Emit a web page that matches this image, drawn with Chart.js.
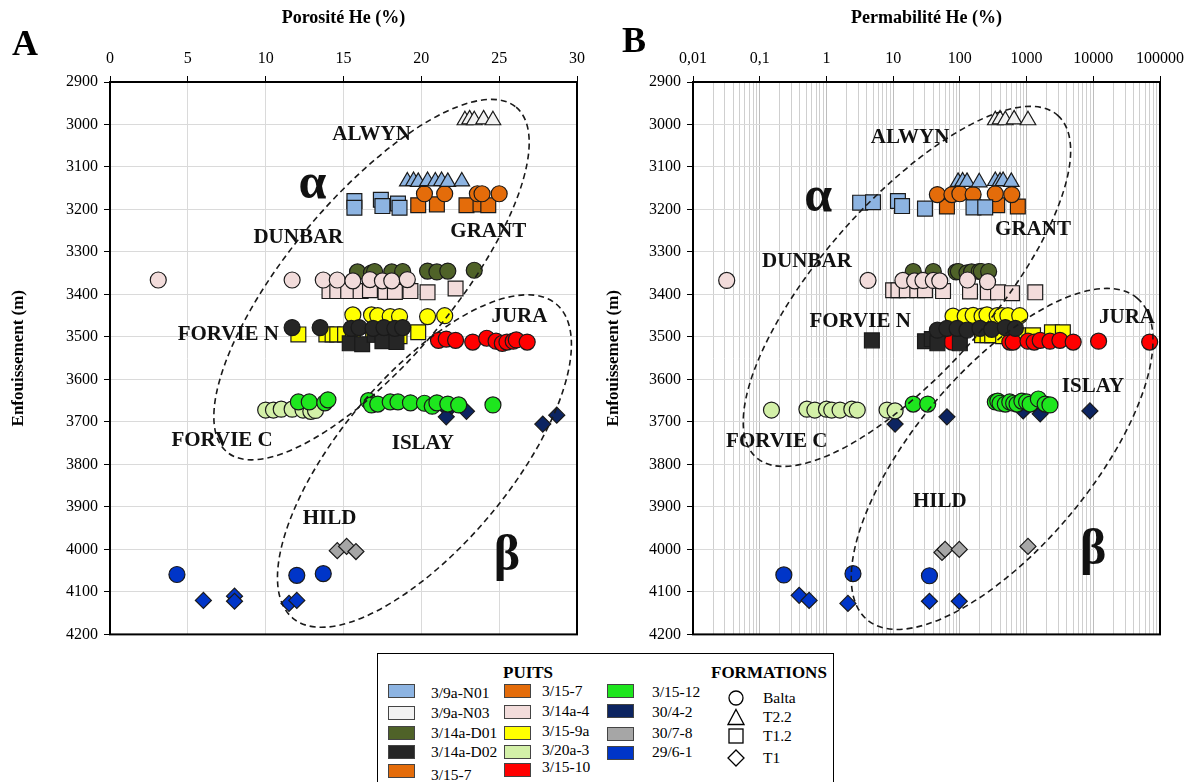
<!DOCTYPE html>
<html>
<head>
<meta charset="utf-8">
<script src="https://cdn.jsdelivr.net/npm/chart.js@4.4.1/dist/chart.umd.min.js"></script>
<style>
  body { margin: 0; background: #fff; width: 1201px; height: 782px; overflow: hidden; position: relative;
         font-family: 'Liberation Serif', 'Times New Roman', serif; color: #000; }
  canvas { position: absolute; top: 0; }
  #cA { left: 0; }
  #cB { left: 600px; }
  .panel { position: absolute; font-weight: bold; font-size: 36px; line-height: 1; }
  #legend { position: absolute; left: 377px; top: 653px; width: 457px; height: 140px; border: 1.5px solid #000; box-sizing: border-box; }
  .lg { position: absolute; font-size: 15.5px; line-height: 1; white-space: nowrap; }
  .lt { position: absolute; font-size: 17px; font-weight: bold; line-height: 1; }
  .sw { position: absolute; width: 27px; height: 14px; border: 1px solid #444; box-sizing: border-box; }
  .sym { position: absolute; }
</style>
</head>
<body>
<canvas id="cA" width="600" height="650" style="width:600px;height:650px"></canvas>
<canvas id="cB" width="601" height="650" style="width:601px;height:650px"></canvas>
<div class="panel" style="left:12px;top:25px">A</div>
<div class="panel" style="left:622px;top:22px">B</div>
<div id="legend"></div>

<script>
const FONT = "'Liberation Serif', 'Times New Roman', serif";

// puits et couleurs
const wellNames = ['3/9a-N01', '3/9a-N03', '3/14a-D01', '3/14a-D02', '3/15-7', '3/14a-4', '3/15-9a',
                   '3/20a-3', '3/15-10', '3/15-12', '30/4-2', '30/7-8', '29/6-1'];
const wellColors = ['#8db4e2', '#f2f2f2', '#4f6228', '#262626', '#e46c0a', '#f2dcdb', '#ffff00',
                    '#d3f0a8', '#ff0000', '#1ee61e', '#0c2461', '#a6a6a6', '#0035c8'];
// formations et symboles
const formNames = ['Balta', 'T2.2', 'T1.2', 'T1'];
const formShapes = ['circle', 'triangle', 'rect', 'rectRot'];

// ticks
const poroTicks = [0, 5, 10, 15, 20, 25, 30];
const permDecades = [0.01, 0.1, 1, 10, 100, 1000, 10000, 100000];
const depthTicks = [2900, 3000, 3100, 3200, 3300, 3400, 3500, 3600, 3700, 3800, 3900, 4000, 4100, 4200];

// ---- Porosité He (%) vs profondeur (m) ----
const poroN03T22 = [[22.8, 2990], [23.1, 2988], [23.4, 2990], [24.0, 2988], [24.6, 2990]];
const poroN01T22 = [[19.1, 3134], [19.5, 3133], [19.8, 3135], [20.4, 3133], [20.9, 3134], [21.3, 3133], [21.7, 3135], [22.6, 3134]];
const poroN01T12 = [[15.7, 3180], [15.7, 3196], [17.4, 3177], [17.5, 3192], [18.5, 3186], [18.6, 3196]];
const poro157Balta = [[20.2, 3163], [21.5, 3163], [23.6, 3163], [23.9, 3163], [25.0, 3163]];
const poro157T12 = [[19.8, 3190], [21.0, 3188], [22.9, 3190], [23.8, 3188], [24.3, 3190]];
const poro14a4Balta = [[3.1, 3366], [11.7, 3366], [13.7, 3366], [14.6, 3366], [15.6, 3368], [16.7, 3365], [17.5, 3368], [18.1, 3368], [19.1, 3365]];
const poroD01Balta = [[15.9, 3347], [16.8, 3349], [17.0, 3346], [18.1, 3347], [18.8, 3346], [20.4, 3345], [21.0, 3347], [21.7, 3345], [23.4, 3343]];
const poro14a4T12 = [[14.1, 3392], [14.6, 3392], [15.3, 3392], [16.1, 3392], [16.7, 3390], [17.7, 3394], [18.3, 3394], [19.3, 3392], [20.4, 3395], [22.2, 3386]];
const poroD02Balta = [[11.7, 3478], [13.5, 3478], [15.5, 3480], [16.0, 3478], [16.9, 3480], [17.6, 3478], [18.3, 3480], [18.8, 3478]];
const poroD02T12 = [[15.4, 3515], [16.2, 3517], [17.0, 3495], [17.5, 3510], [18.4, 3512]];
const poro159aBalta = [[15.6, 3448], [16.8, 3448], [17.2, 3450], [18.0, 3452], [18.6, 3452], [20.4, 3452], [21.5, 3450]];
const poro159aT12 = [[12.1, 3494], [13.9, 3494], [14.3, 3494], [14.6, 3494], [15.1, 3494], [15.6, 3494], [16.9, 3494], [18.6, 3498], [19.8, 3489]];
const poro1510Balta = [[21.1, 3508], [21.6, 3505], [22.2, 3508], [23.3, 3512], [24.2, 3503], [24.8, 3510], [25.2, 3515], [25.5, 3512], [25.9, 3510], [26.1, 3507], [26.8, 3512]];
const poro1512Balta = [[12.1, 3653], [12.8, 3653], [13.8, 3655], [14.0, 3648], [16.6, 3650], [16.8, 3660], [17.2, 3658], [18.0, 3653],
                       [18.5, 3653], [19.3, 3655], [20.2, 3656], [20.7, 3663], [21.0, 3655], [21.7, 3658], [22.4, 3660], [24.6, 3660]];
const poro20a3Balta = [[10.0, 3672], [10.5, 3672], [11.0, 3670], [11.7, 3670], [12.4, 3672], [12.9, 3675], [13.2, 3673]];
const poro304T1 = [[21.7, 3672], [21.6, 3688], [22.9, 3675], [27.8, 3705], [28.7, 3684]];
const poro307T1 = [[14.6, 4003], [15.2, 3993], [15.8, 4005]];
const poro296Balta = [[4.3, 4059], [12.0, 4061], [13.7, 4057]];
const poro296T1 = [[6.0, 4120], [8.0, 4110], [8.0, 4122], [11.5, 4127], [12.0, 4120]];

// ---- Perméabilité He vs profondeur (m) ----
const permN03T22 = [[340, 2990], [400, 2988], [480, 2990], [650, 2988], [1050, 2990]];
const permN01T22 = [[94, 3135], [110, 3134], [128, 3135], [195, 3136], [340, 3133], [400, 3134], [445, 3133], [590, 3135]];
const permN01T12 = [[3.2, 3184], [5.0, 3183], [11.8, 3180], [13.6, 3192], [30, 3198], [160, 3195], [240, 3195]];
const perm157Balta = [[46, 3165], [76, 3165], [100, 3163], [158, 3165], [340, 3163], [600, 3165]];
const perm157T12 = [[64, 3193], [363, 3190], [740, 3193]];
const perm14a4Balta = [[0.032, 3367], [4.2, 3367], [14, 3367], [21, 3368], [28, 3367], [40, 3367], [50, 3368], [130, 3366], [260, 3370]];
const permD01Balta = [[20, 3346], [40, 3346], [88, 3347], [95, 3346], [128, 3349], [150, 3347], [195, 3346], [210, 3346], [270, 3346]];
const perm14a4T12 = [[10, 3390], [12, 3390], [16, 3390], [23, 3390], [30, 3390], [56, 3392], [142, 3393], [263, 3395], [373, 3395], [605, 3397], [1350, 3395]];
const permD02Balta = [[46, 3484], [64, 3480], [91, 3480], [128, 3484], [200, 3480], [300, 3482], [480, 3478], [680, 3480]];
const permD02T12 = [[4.8, 3508], [30, 3510], [38, 3505], [46, 3515], [100, 3515]];
const perm159aBalta = [[79, 3451], [120, 3451], [158, 3449], [215, 3451], [255, 3448], [363, 3450], [427, 3450], [525, 3450], [790, 3450]];
const perm159aT12 = [[47, 3494], [215, 3496], [260, 3496], [305, 3496], [445, 3498], [740, 3496], [1250, 3496], [2400, 3489], [3500, 3489]];
const perm1510Balta = [[76, 3512], [560, 3512], [630, 3512], [1050, 3510], [1300, 3512], [1600, 3508], [2240, 3510], [3160, 3508], [5000, 3512], [12000, 3510], [70000, 3512]];
const perm1512Balta = [[20, 3658], [33, 3658], [340, 3653], [370, 3651], [400, 3656], [480, 3658], [560, 3653], [640, 3656],
                       [720, 3658], [850, 3651], [1000, 3653], [1130, 3658], [1500, 3646], [1900, 3658], [2240, 3660]];
const perm20a3Balta = [[0.15, 3672], [0.51, 3670], [0.67, 3672], [1.0, 3670], [1.2, 3672], [1.6, 3672], [2.4, 3670], [2.9, 3672], [8.1, 3672], [10.7, 3674]];
const perm304T1 = [[10.7, 3705], [64, 3688], [890, 3674], [1600, 3681], [8900, 3674]];
const perm307T1 = [[54, 4007], [60, 4000], [98, 4000], [1050, 3993]];
const perm296Balta = [[0.23, 4060], [2.5, 4057], [35, 4062]];
const perm296T1 = [[0.39, 4108], [0.55, 4120], [2.1, 4127], [35, 4122], [98, 4122]];

// series: puits + formation, drawn in this order
const series = [
  { well: '3/9a-N03', form: 'T2.2', poro: poroN03T22, perm: permN03T22 },
  { well: '3/9a-N01', form: 'T2.2', poro: poroN01T22, perm: permN01T22 },
  { well: '3/9a-N01', form: 'T1.2', poro: poroN01T12, perm: permN01T12 },
  { well: '3/15-7', form: 'Balta', poro: poro157Balta, perm: perm157Balta },
  { well: '3/15-7', form: 'T1.2', poro: poro157T12, perm: perm157T12 },
  { well: '3/14a-4', form: 'Balta', poro: poro14a4Balta, perm: perm14a4Balta },
  { well: '3/14a-D01', form: 'Balta', poro: poroD01Balta, perm: permD01Balta },
  { well: '3/14a-4', form: 'T1.2', poro: poro14a4T12, perm: perm14a4T12 },
  { well: '3/14a-D02', form: 'Balta', poro: poroD02Balta, perm: permD02Balta },
  { well: '3/14a-D02', form: 'T1.2', poro: poroD02T12, perm: permD02T12 },
  { well: '3/15-9a', form: 'Balta', poro: poro159aBalta, perm: perm159aBalta },
  { well: '3/15-10', form: 'Balta', poro: poro1510Balta, perm: perm1510Balta },
  { well: '3/15-9a', form: 'T1.2', poro: poro159aT12, perm: perm159aT12 },
  { well: '3/15-12', form: 'Balta', poro: poro1512Balta, perm: perm1512Balta },
  { well: '3/20a-3', form: 'Balta', poro: poro20a3Balta, perm: perm20a3Balta },
  { well: '30/4-2', form: 'T1', poro: poro304T1, perm: perm304T1 },
  { well: '30/7-8', form: 'T1', poro: poro307T1, perm: perm307T1 },
  { well: '29/6-1', form: 'Balta', poro: poro296Balta, perm: perm296Balta },
  { well: '29/6-1', form: 'T1', poro: poro296T1, perm: perm296T1 }
];

// annotations (champs + domaines alpha / beta)
const notesA = [
  { t: 'ALWYN', x: 16.8, y: 3024 }, { t: 'α', x: 13.0, y: 3142, big: true }, { t: 'GRANT', x: 24.3, y: 3252 },
  { t: 'DUNBAR', x: 12.1, y: 3266 }, { t: 'FORVIE N', x: 7.6, y: 3494 }, { t: 'JURA', x: 26.3, y: 3451 },
  { t: 'FORVIE C', x: 7.2, y: 3745 }, { t: 'ISLAY', x: 20.1, y: 3752 }, { t: 'HILD', x: 14.1, y: 3928 },
  { t: 'β', x: 25.5, y: 4017, big: true }
];
const notesB = [
  { t: 'ALWYN', x: 17.9, y: 3031 }, { t: 'α', x: 0.75, y: 3172, big: true }, { t: 'GRANT', x: 1250, y: 3247 },
  { t: 'DUNBAR', x: 0.51, y: 3322 }, { t: 'FORVIE N', x: 3.2, y: 3463 }, { t: 'JURA', x: 32000, y: 3454 },
  { t: 'FORVIE C', x: 0.18, y: 3747 }, { t: 'ISLAY', x: 9900, y: 3616 }, { t: 'HILD', x: 50, y: 3888 },
  { t: 'β', x: 10000, y: 4005, big: true }
];
const ellipsesA = [
  { x: 16.8, y: 3365, rx: 225, ry: 82, rot: -50 },
  { x: 20.2, y: 3792, rx: 205, ry: 85, rot: -50 }
];
const ellipsesB = [
  { x: 16.1, y: 3381, rx: 228, ry: 85, rot: -48.6 },
  { x: 430, y: 3787, rx: 210, ry: 88, rot: -50 }
];

Chart.defaults.font.family = FONT;
Chart.defaults.color = '#000';

const pointRadius = { circle: 8, triangle: 9, rect: 10.5, rectRot: 8 };

function makeDatasets(key) {
  return series.map(s => {
    const shape = formShapes[formNames.indexOf(s.form)];
    const col = wellColors[wellNames.indexOf(s.well)];
    return {
      label: s.well + ' ' + s.form,
      data: s[key].map(p => ({ x: p[0], y: p[1] })),
      pointStyle: shape,
      pointRadius: pointRadius[shape],
      backgroundColor: col,
      borderColor: '#1a1a1a',
      borderWidth: 1.2,
      showLine: false
    };
  });
}

const decor = {
  id: 'decor',
  afterDatasetsDraw(chart, args, opts) {
    const { ctx, chartArea: a } = chart;
    const xs = chart.scales.x, ys = chart.scales.y;
    ctx.save();
    ctx.setLineDash([6, 4]);
    ctx.lineWidth = 1.6;
    ctx.strokeStyle = '#1a1a1a';
    opts.ellipses.forEach(e => {
      ctx.beginPath();
      ctx.ellipse(xs.getPixelForValue(e.x), ys.getPixelForValue(e.y), e.rx, e.ry, e.rot * Math.PI / 180, 0, 2 * Math.PI);
      ctx.stroke();
    });
    ctx.setLineDash([]);
    ctx.lineWidth = 2;
    ctx.strokeStyle = '#000';
    ctx.strokeRect(a.left, a.top, a.right - a.left, a.bottom - a.top);
    ctx.fillStyle = '#111';
    ctx.textAlign = 'center';
    ctx.textBaseline = 'middle';
    opts.notes.forEach(n => {
      ctx.font = (n.big ? 'bold 50px ' : 'bold 21px ') + FONT;
      ctx.fillText(n.t, xs.getPixelForValue(n.x), ys.getPixelForValue(n.y));
    });
    ctx.restore();
  }
};

function yAxis(width, titlePad) {
  return {
    reverse: true, min: depthTicks[0], max: depthTicks[depthTicks.length - 1],
    afterBuildTicks: s => { s.ticks = depthTicks.map(v => ({ value: v })); },
    ticks: { font: { size: 16 }, padding: 6, color: '#000', callback: v => String(v) },
    grid: { color: '#dadada', tickColor: '#000', tickLength: 6 },
    border: { color: '#000', width: 2 },
    title: { display: true, text: 'Enfouissement (m)', font: { size: 17, weight: 'bold' }, padding: { top: titlePad, bottom: 0 } },
    afterFit: s => { s.width = width; }
  };
}

const isDecade = v => Math.abs(Math.log10(v) - Math.round(Math.log10(v))) < 1e-6;

new Chart(document.getElementById('cA'), {
  type: 'scatter',
  data: { datasets: makeDatasets('poro') },
  plugins: [decor],
  options: {
    responsive: false, animation: false,
    layout: { padding: { left: 0, right: 23, top: 0, bottom: 14 } },
    plugins: { legend: { display: false }, tooltip: { enabled: false }, decor: { ellipses: ellipsesA, notes: notesA } },
    scales: {
      x: {
        type: 'linear', position: 'top', min: poroTicks[0], max: poroTicks[poroTicks.length - 1],
        afterBuildTicks: s => { s.ticks = poroTicks.map(v => ({ value: v })); },
        ticks: { font: { size: 16 }, padding: 8, color: '#000', callback: v => String(v) },
        grid: { color: '#dadada', tickColor: '#000', tickLength: 6 },
        border: { color: '#000', width: 2 },
        title: { display: true, text: 'Porosité He (%)', font: { size: 18, weight: 'bold' }, padding: { top: 8, bottom: 0 } },
        afterFit: s => { s.height = 82; }
      },
      y: yAxis(110, 8)
    }
  }
});

new Chart(document.getElementById('cB'), {
  type: 'scatter',
  data: { datasets: makeDatasets('perm') },
  plugins: [decor],
  options: {
    responsive: false, animation: false,
    layout: { padding: { left: 0, right: 41, top: 0, bottom: 14 } },
    plugins: { legend: { display: false }, tooltip: { enabled: false }, decor: { ellipses: ellipsesB, notes: notesB } },
    scales: {
      x: {
        type: 'logarithmic', position: 'top', min: permDecades[0], max: permDecades[permDecades.length - 1],
        afterBuildTicks: s => {
          const t = [];
          permDecades.forEach((d, i) => {
            const n = i < permDecades.length - 1 ? 9 : 1;
            for (let k = 1; k <= n; k++) t.push({ value: k * d });
          });
          s.ticks = t;
        },
        ticks: {
          autoSkip: false, maxRotation: 0, font: { size: 16 }, padding: 8, color: '#000',
          callback: v => isDecade(v) ? String(permDecades[Math.round(Math.log10(v)) + 2]).replace('.', ',') : ''
        },
        grid: {
          color: c => (c.tick && isDecade(c.tick.value)) ? '#bdbdbd' : '#cfcfcf',
          tickColor: c => (c.tick && isDecade(c.tick.value)) ? '#000' : 'rgba(0,0,0,0)',
          tickLength: 6
        },
        border: { color: '#000', width: 2 },
        title: { display: true, text: 'Permabilité He (%)', font: { size: 18, weight: 'bold' }, padding: { top: 8, bottom: 0 } },
        afterFit: s => { s.height = 82; }
      },
      y: yAxis(93, 3)
    }
  }
});

// légende (HTML)
const legend = document.getElementById('legend');
const L = 377, T = 653;
function add(html) { legend.insertAdjacentHTML('beforeend', html); }
add(`<div class="lt" style="left:${502 - L}px;top:${663 - T}px">PUITS</div>`);
add(`<div class="lt" style="left:${710 - L}px;top:${663 - T}px">FORMATIONS</div>`);
const cols = [
  { sw: 387, tx: 430, rows: [['3/9a-N01', 683, 684], ['3/9a-N03', 705, 704], ['3/14a-D01', 725, 724], ['3/14a-D02', 744, 743], ['3/15-7', 763, 766]] },
  { sw: 503, tx: 541, rows: [['3/15-7', 683, 682], ['3/14a-4', 704, 702], ['3/15-9a', 725, 722], ['3/20a-3', 744, 741], ['3/15-10', 762, 758]] },
  { sw: 606, tx: 651, rows: [['3/15-12', 683, 683], ['30/4-2', 703, 703], ['30/7-8', 726, 724], ['29/6-1', 745, 743]] }
];
cols.forEach(c => c.rows.forEach(r => {
  const col = wellColors[wellNames.indexOf(r[0])];
  add(`<div class="sw" style="left:${c.sw - L}px;top:${r[1] - T}px;background:${col}"></div>`);
  add(`<div class="lg" style="left:${c.tx - L}px;top:${r[2] - T}px">${r[0]}</div>`);
}));
const symSvg = {
  circle: '<circle cx="9" cy="9" r="7" fill="none" stroke="#000" stroke-width="1.3"/>',
  triangle: '<polygon points="9,1.5 17,16.5 1,16.5" fill="none" stroke="#000" stroke-width="1.3"/>',
  rect: '<rect x="2" y="2" width="14" height="14" fill="none" stroke="#000" stroke-width="1.3"/>',
  rectRot: '<polygon points="9,1 17,9 9,17 1,9" fill="none" stroke="#000" stroke-width="1.3"/>'
};
const formRows = [697, 716, 735, 757];
formNames.forEach((f, i) => {
  const y = formRows[i];
  add(`<svg class="sym" width="18" height="18" style="left:${726 - L}px;top:${y - 9 - T}px">${symSvg[formShapes[i]]}</svg>`);
  add(`<div class="lg" style="left:${762 - L}px;top:${y - 8 - T}px">${f}</div>`);
});
</script>
</body>
</html>
